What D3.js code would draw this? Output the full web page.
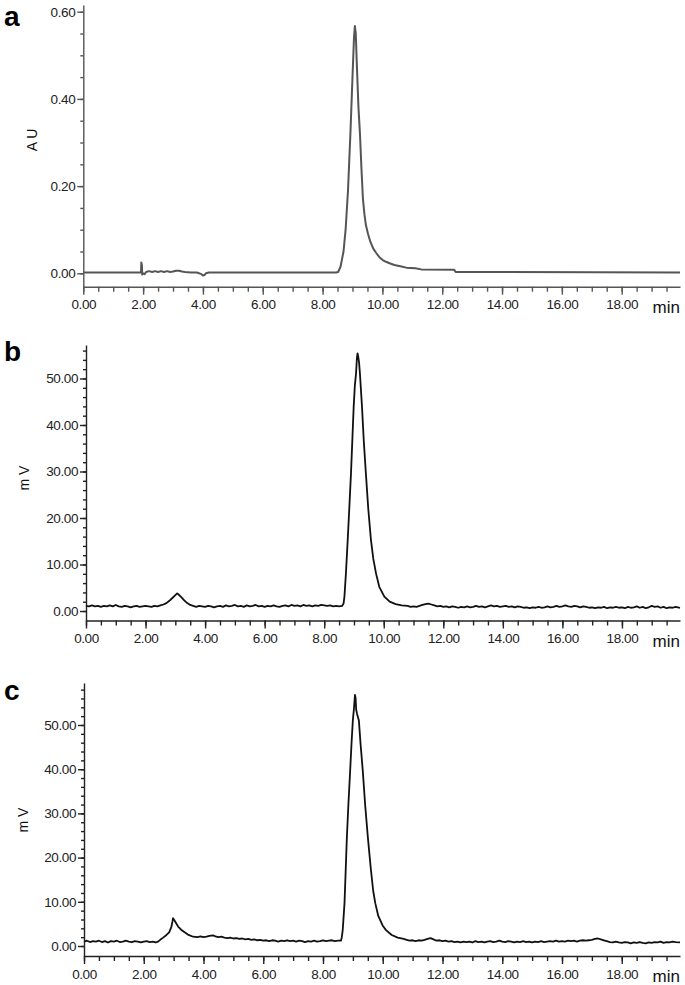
<!DOCTYPE html>
<meta charset="utf-8">
<style>
  body { margin: 0; background: #fff; }
  text { font-family: "Liberation Sans", Arial, sans-serif; }
  .tick text { font-size: 13.5px; letter-spacing: -0.4px; }
</style>
<body>
<script src="https://d3js.org/d3.v7.min.js"></script>
<script>

// chromatogram traces as [time (min), signal]
var traceA = [[0,0.002],[1.93,0.002],[1.94,0.025],[1.96,0.018],[1.97,-0.003],[2.0,0.0],[2.05,-0.002],[2.1,0.003],
  [2.2,0.005],[2.3,0.003],[2.4,0.005],[2.5,0.003],[2.6,0.005],[2.7,0.003],[2.8,0.005],[2.9,0.003],[3.0,0.004],
  [3.1,0.006],[3.2,0.006],[3.3,0.004],[3.4,0.003],[3.6,0.002],[3.8,0.002],[3.95,-0.002],[4.0,-0.005],[4.05,-0.004],
  [4.1,0.0],[4.2,0.002],[6,0.002],[8.45,0.002],[8.52,0.003],[8.6,0.015],[8.7,0.05],[8.77,0.1],[8.85,0.19],[8.93,0.32],
  [9.0,0.45],[9.05,0.54],[9.08,0.567],[9.11,0.55],[9.15,0.47],[9.2,0.38],[9.25,0.32],[9.3,0.24],[9.35,0.17],
  [9.4,0.135],[9.45,0.11],[9.52,0.09],[9.6,0.072],[9.7,0.056],[9.8,0.046],[9.9,0.037],[10.0,0.031],[10.1,0.027],
  [10.24,0.023],[10.4,0.019],[10.6,0.016],[10.8,0.013],[11.1,0.0115],[11.3,0.009],[12.4,0.008],[12.45,0.003],[19.95,0.002]];

var traceB = [[0,1.1],[0.1,1.0],[0.2,1.2],[0.3,1.0],[0.4,1.1],[0.5,0.9],[0.6,1.1],[0.7,1.0],[0.8,1.2],[0.9,1.0],
  [1.0,1.3],[1.1,1.0],[1.2,0.9],[1.3,1.1],[1.4,1.0],[1.5,0.8],[1.6,1.0],[1.7,1.1],[1.8,0.9],[1.9,1.0],[2.0,1.1],
  [2.1,1.0],[2.2,0.9],[2.3,1.1],[2.4,1.0],[2.5,1.2],[2.6,1.4],[2.7,1.7],[2.8,2.2],[2.9,2.8],[3.0,3.4],[3.06,3.8],
  [3.1,3.6],[3.2,3.0],[3.3,2.3],[3.4,1.7],[3.5,1.3],[3.6,1.1],[3.7,0.9],[3.8,1.1],[3.9,1.0],[4.0,0.9],[4.1,1.1],
  [4.2,1.0],[4.3,0.8],[4.4,1.0],[4.5,1.1],[4.6,0.9],[4.7,1.2],[4.8,1.0],[4.9,1.1],[5.0,1.3],[5.1,1.0],[5.2,1.1],
  [5.3,0.9],[5.4,1.2],[5.5,1.0],[5.6,1.1],[5.7,1.3],[5.8,1.0],[5.9,1.1],[6.0,0.9],[6.1,1.1],[6.2,1.0],[6.3,1.2],
  [6.4,1.0],[6.5,0.9],[6.6,1.1],[6.7,1.2],[6.8,1.0],[6.9,1.3],[7.0,1.1],[7.1,1.2],[7.2,1.0],[7.3,1.3],[7.4,1.1],
  [7.5,1.2],[7.6,1.0],[7.7,1.2],[7.8,1.1],[7.9,1.3],[8.0,1.2],[8.1,1.1],[8.2,1.2],[8.3,1.0],[8.4,1.1],[8.5,1.0],
  [8.6,1.1],[8.65,1.6],[8.68,3.1],[8.73,8.1],[8.79,15.3],[8.85,23],[8.9,29.6],[8.95,37.5],[8.99,43.9],[9.03,48.5],
  [9.07,51.1],[9.1,54.5],[9.12,55.4],[9.14,54.8],[9.17,53.5],[9.2,51.1],[9.27,43.9],[9.33,36.5],[9.4,29.6],
  [9.48,22],[9.57,15.3],[9.65,11.2],[9.74,8.1],[9.85,5.2],[10.02,3.1],[10.2,2.0],[10.4,1.5],[10.6,1.2],[10.8,1.1],
  [10.9,0.9],[11.0,1.0],[11.1,0.9],[11.2,1.1],[11.3,1.3],[11.4,1.5],[11.5,1.6],[11.6,1.4],[11.7,1.2],[11.8,1.0],
  [11.9,1.1],[12.0,0.9],[12.1,1.0],[12.2,0.8],[12.3,1.0],[12.4,0.9],[12.5,0.7],[12.6,0.9],[12.7,0.8],[12.8,1.0],
  [12.9,0.8],[13.0,0.9],[13.1,1.1],[13.2,0.9],[13.3,1.0],[13.4,0.8],[13.5,1.0],[13.6,1.2],[13.7,1.0],[13.8,1.1],
  [13.9,0.9],[14.0,1.0],[14.1,1.1],[14.2,0.9],[14.3,1.0],[14.4,0.8],[14.5,1.0],[14.6,0.9],[14.7,0.7],[14.8,0.8],
  [14.9,0.6],[15.0,0.8],[15.1,0.7],[15.2,0.9],[15.3,0.7],[15.4,0.8],[15.5,1.0],[15.6,0.8],[15.7,0.9],[15.8,1.1],
  [15.9,0.9],[16.0,1.0],[16.1,1.2],[16.2,1.0],[16.3,0.9],[16.4,1.1],[16.5,1.0],[16.6,0.8],[16.7,1.0],[16.8,0.9],
  [16.9,0.7],[17.0,0.8],[17.1,0.6],[17.2,0.8],[17.3,0.7],[17.4,0.9],[17.5,0.6],[17.6,0.8],[17.7,0.7],[17.8,0.9],
  [17.9,0.7],[18.0,0.8],[18.1,0.6],[18.2,0.9],[18.3,0.7],[18.4,0.8],[18.5,1.0],[18.6,0.7],[18.7,0.9],[18.8,0.6],
  [18.9,0.8],[19.0,1.1],[19.1,0.9],[19.2,1.0],[19.3,0.7],[19.4,0.9],[19.5,0.6],[19.6,0.8],[19.7,0.7],[19.8,0.9],[19.95,0.7]];

var traceC = [[0,1.0],[0.1,1.2],[0.2,0.9],[0.3,1.1],[0.4,1.0],[0.5,1.2],[0.6,0.9],[0.7,1.1],[0.8,0.8],[0.9,1.1],
  [1.0,1.0],[1.1,1.2],[1.2,0.9],[1.3,1.0],[1.4,1.2],[1.5,1.0],[1.6,0.9],[1.7,1.1],[1.8,1.0],[1.9,0.8],[2.0,1.0],
  [2.1,1.1],[2.2,0.9],[2.3,1.0],[2.4,0.8],[2.48,1.0],[2.55,1.4],[2.65,1.9],[2.76,2.5],[2.85,3.1],[2.92,4.2],
  [2.96,5.5],[2.98,6.3],[3.02,5.9],[3.08,5.2],[3.15,4.4],[3.25,3.7],[3.37,3.1],[3.5,2.5],[3.65,2.1],[3.8,2.0],
  [3.9,2.2],[4.0,2.0],[4.1,2.1],[4.2,2.3],[4.32,2.4],[4.4,2.2],[4.5,2.0],[4.6,2.1],[4.7,1.9],[4.8,1.8],[4.9,1.9],
  [5.0,1.7],[5.1,1.8],[5.2,1.6],[5.3,1.7],[5.4,1.5],[5.5,1.6],[5.6,1.4],[5.7,1.5],[5.8,1.3],[5.9,1.4],[6.0,1.2],
  [6.1,1.3],[6.2,1.1],[6.3,1.3],[6.4,1.2],[6.5,1.0],[6.6,1.2],[6.7,1.1],[6.8,1.3],[6.9,1.1],[7.0,1.2],[7.1,1.0],
  [7.2,1.2],[7.3,1.1],[7.4,0.9],[7.5,1.1],[7.6,1.0],[7.7,1.2],[7.8,1.0],[7.9,1.1],[8.0,1.3],[8.1,1.1],[8.2,1.2],
  [8.3,1.3],[8.4,1.1],[8.5,1.2],[8.6,1.2],[8.63,2.0],[8.66,3.6],[8.72,9.7],[8.8,24.7],[8.85,32],[8.91,39.8],
  [8.96,46.5],[9.0,51.1],[9.04,54],[9.07,56.8],[9.09,56.2],[9.11,53.5],[9.14,52.5],[9.2,51.1],[9.26,45.5],
  [9.33,39.8],[9.41,32],[9.5,24.7],[9.6,17.5],[9.68,12.5],[9.75,9.7],[9.85,6.8],[10.0,4.6],[10.11,3.6],[10.3,2.5],
  [10.5,1.9],[10.7,1.6],[10.8,1.4],[10.9,1.2],[11.0,1.3],[11.1,1.1],[11.2,1.3],[11.3,1.2],[11.4,1.4],[11.5,1.6],
  [11.6,1.8],[11.7,1.5],[11.8,1.2],[11.9,1.3],[12.0,1.1],[12.1,1.2],[12.2,1.0],[12.3,1.1],[12.4,0.9],[12.5,1.0],
  [12.6,0.8],[12.7,1.0],[12.8,0.9],[12.9,1.0],[13.0,0.8],[13.1,1.1],[13.2,0.9],[13.3,1.0],[13.4,0.8],[13.5,1.0],
  [13.6,1.1],[13.7,0.9],[13.8,1.0],[13.9,1.2],[14.0,1.0],[14.1,0.9],[14.2,1.1],[14.3,1.0],[14.4,0.8],[14.5,1.0],
  [14.6,0.9],[14.7,1.1],[14.8,0.9],[14.9,1.0],[15.0,0.8],[15.1,1.0],[15.2,0.9],[15.3,1.1],[15.4,0.9],[15.5,1.0],
  [15.6,1.1],[15.7,1.0],[15.8,1.2],[15.9,1.0],[16.0,1.1],[16.1,1.0],[16.2,1.2],[16.3,1.1],[16.4,1.2],[16.5,1.0],
  [16.6,1.2],[16.7,1.3],[16.8,1.2],[16.9,1.3],[17.0,1.4],[17.1,1.6],[17.2,1.7],[17.3,1.5],[17.4,1.3],[17.5,1.1],
  [17.6,0.9],[17.7,0.8],[17.8,1.0],[17.9,0.8],[18.0,0.7],[18.1,0.9],[18.2,0.8],[18.3,0.6],[18.4,0.8],[18.5,0.7],
  [18.6,0.9],[18.7,0.7],[18.8,0.6],[18.9,0.8],[19.0,0.7],[19.1,0.9],[19.2,0.8],[19.3,1.0],[19.4,0.7],[19.5,0.9],
  [19.6,0.8],[19.7,1.0],[19.8,0.9],[19.95,0.8]];

// tick values
var xTicks = [0, 2, 4, 6, 8, 10, 12, 14, 16, 18];
var yTicksAU = [0, 0.2, 0.4, 0.6];
var yTicksMV = [0, 10, 20, 30, 40, 50];
var panelLabels = ["a", "b", "c"];
var units = ["A U", "m V", "m V"];

var width = 685, height = 985, xRight = 680, xMax = 19.95;

var svg = d3.select("body").append("svg")
  .attr("width", width)
  .attr("height", height);

var panels = [
  { data: traceA, left: 83.3, top: 5, bottom: 286.7, yDomain: [-0.0307, 0.6154], yTicks: yTicksAU,
    yMinor: d3.range(0, 0.61, 0.05), color: "#555", axisColor: "#555", lw: 2,
    labelY: 26, unitX: 37, unitY: 140 },
  { data: traceB, left: 86, top: 345, bottom: 620.5, yDomain: [-2.04, 57.2], yTicks: yTicksMV,
    yMinor: d3.range(0, 57, 2), color: "#111", axisColor: "#222", lw: 1.8,
    labelY: 361, unitX: 29, unitY: 478 },
  { data: traceC, left: 84, top: 683, bottom: 956, yDomain: [-2.26, 59.5], yTicks: yTicksMV,
    yMinor: d3.range(0, 59, 2), color: "#111", axisColor: "#222", lw: 1.8,
    labelY: 700, unitX: 28, unitY: 820 }
];

panels.forEach(function (p, i) {
  var x = d3.scaleLinear().domain([0, xMax]).range([p.left, xRight]);
  var y = d3.scaleLinear().domain(p.yDomain).range([p.bottom, p.top]);
  var g = svg.append("g");

  // minor ticks first
  g.append("g")
    .attr("transform", "translate(0," + p.bottom + ")")
    .call(d3.axisBottom(x).tickValues(d3.range(0, xMax, 0.5)).tickSize(5).tickFormat(""))
    .call(function (s) { s.select(".domain").remove(); });
  g.append("g")
    .attr("transform", "translate(" + p.left + ",0)")
    .call(d3.axisLeft(y).tickValues(p.yMinor).tickSize(3).tickFormat(""))
    .call(function (s) { s.select(".domain").remove(); });

  // x axis
  g.append("g")
    .attr("transform", "translate(0," + p.bottom + ")")
    .call(d3.axisBottom(x).tickValues(xTicks).tickSize(8).tickSizeOuter(0)
      .tickPadding(5).tickFormat(d3.format(".2f")));

  // y axis
  g.append("g")
    .attr("transform", "translate(" + p.left + ",0)")
    .call(d3.axisLeft(y).tickValues(p.yTicks).tickSize(6).tickSizeOuter(0)
      .tickPadding(2).tickFormat(d3.format(".2f")));

  g.selectAll(".domain, .tick line").attr("stroke", p.axisColor).attr("stroke-width", 1.4);
  g.selectAll(".tick text").attr("fill", "#222");

  // trace
  g.append("path")
    .datum(p.data)
    .attr("fill", "none")
    .attr("stroke", p.color)
    .attr("stroke-width", p.lw)
    .attr("stroke-linejoin", "round")
    .attr("d", d3.line().x(function (d) { return x(d[0]); }).y(function (d) { return y(d[1]); }));

  // "min" label
  g.append("text")
    .attr("x", xRight)
    .attr("y", p.bottom + 26)
    .attr("text-anchor", "end")
    .attr("font-size", "17px")
    .attr("fill", "#111")
    .text("min");

  // unit label
  g.append("text")
    .attr("transform", "translate(" + p.unitX + "," + p.unitY + ") rotate(-90)")
    .attr("text-anchor", "middle")
    .attr("font-size", "14px")
    .attr("fill", "#111")
    .text(units[i]);

  // panel letter
  g.append("text")
    .attr("x", 4)
    .attr("y", p.labelY)
    .attr("font-size", "28px")
    .attr("font-weight", "bold")
    .attr("fill", "#000")
    .text(panelLabels[i]);
});

</script>
</body>
